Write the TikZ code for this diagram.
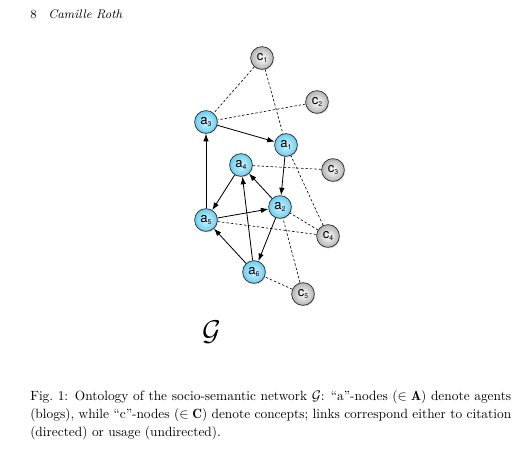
\documentclass[tikz,border=0pt]{standalone}
\usepackage{fontspec}
\newfontfamily\helv{TeX Gyre Heros}
\usetikzlibrary{arrows.meta,shadows}

% node label: letter with a small index
\newcommand{\lab}[2]{{\helv\fontsize{9.5}{10}\selectfont #1\raisebox{-0.2ex}{\fontsize{5}{6}\selectfont #2}}}

\begin{document}
\begin{tikzpicture}[x=0.2547mm, y=-0.2547mm, >={Latex[length=5.5pt,width=4pt]},
  agent/.style={circle, draw=black!85, line width=0.5pt, minimum size=16.5pt, inner sep=0pt,
    inner color={rgb,255:red,215;green,244;blue,255}, outer color={rgb,255:red,105;green,205;blue,240},
    drop shadow={opacity=0.25, shadow xshift=0.6pt, shadow yshift=-0.8pt}},
  concept/.style={agent, inner color=white, outer color=black!30},
  cite/.style={->, line width=0.6pt},
  usage/.style={line width=0.45pt, dash pattern=on 1.8pt off 1.4pt}]
\useasboundingbox (0,0) rectangle (528,448);

% running head
\node[anchor=base west, inner sep=0pt, font=\fontsize{9}{11}\selectfont] (page) at (30,18) {8};
\node[anchor=base west, inner sep=0pt, font=\fontsize{9}{11}\selectfont\itshape] (head) at (48,18) {Camille Roth};

% agents
\foreach \name/\x/\y/\i in {a1/286/145/1, a2/280/207/2, a3/206/122/3, a4/241/165/4, a5/206/220/5, a6/254/272/6}
  \node[agent] (\name) at (\x,\y) {\lab{a}{\i}};

% concepts
\foreach \name/\x/\y/\i in {c1/262/58/1, c2/317/102/2, c3/333/170/3, c4/328/236/4, c5/303/294/5}
  \node[concept] (\name) at (\x,\y) {\lab{c}{\i}};

% citation (directed)
\foreach \from/\to in {a3/a1, a5/a3, a1/a2, a4/a5, a2/a4, a5/a2, a6/a4, a2/a6, a6/a5}
  \draw[cite] (\from) -- (\to);

% usage (undirected)
\foreach \from/\to in {c1/a3, c1/a1, c2/a3, c3/a4, c4/a1, c4/a2, c4/a5, c5/a2, c5/a6}
  \draw[usage] (\from) -- (\to);

% graph name
\node[font=\fontsize{21}{24}\selectfont] (gname) at (212,332) {$\mathcal{G}$};

% caption
\node[anchor=north west, inner sep=0pt, text width=12.25cm, align=justify,
  font=\fontsize{9.7}{13}\selectfont] (caption) at (30,390)
  {Fig.~1:\enspace Ontology of the socio-semantic network $\mathcal{G}$: ``a''-nodes ($\in\mathbf{A}$) denote agents\linebreak
   (blogs), while ``c''-nodes ($\in\mathbf{C}$) denote concepts; links correspond either to citation\linebreak
   (directed) or usage (undirected).};
\end{tikzpicture}
\end{document}
